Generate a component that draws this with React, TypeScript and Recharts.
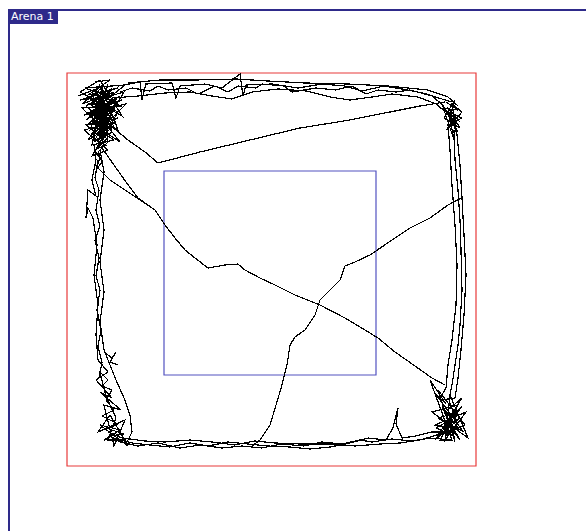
import { ComposedChart, Line, XAxis, YAxis, ReferenceArea } from "recharts";

// Arena coordinates (same units as the picture, origin at the top-left)
const W = 586;
const H = 531;

const outerZone = { x1: 67, x2: 476, y1: 73, y2: 466 };
const centerZone = { x1: 164, x2: 376, y1: 171, y2: 375 };

type Pt = [number, number];

const topLeftBlob: Pt[] = [
  [95, 82], [110, 80], [88, 95], [118, 88], [80, 100], [112, 96], [92, 108], [122, 100],
  [84, 115], [115, 110], [98, 120], [108, 84], [90, 130], [118, 118], [86, 125], [104, 140],
  [96, 100], [124, 92], [100, 132], [112, 125], [88, 140], [106, 112], [94, 90], [120, 106],
  [82, 108], [110, 135], [98, 148], [116, 100], [90, 118], [105, 95], [85, 88], [125, 85],
  [100, 105], [92, 145], [114, 140], [96, 128], [108, 118], [88, 112], [118, 130], [102, 88],
  [97, 112], [111, 104], [93, 124], [104, 128], [99, 96], [113, 116], [91, 136], [107, 146],
];

const topLeftBlob2: Pt[] = [
  [100, 84], [92, 100], [106, 92], [96, 116], [110, 100], [100, 124], [114, 108], [103, 136],
  [94, 110], [108, 126], [98, 140], [112, 132], [96, 92], [104, 104], [90, 104], [100, 112],
  [108, 110], [102, 120], [94, 132], [106, 138], [98, 104], [112, 88], [104, 98], [96, 124],
  [110, 118], [100, 98], [106, 130], [92, 118], [102, 92], [108, 142], [98, 152], [102, 162],
  [96, 170], [100, 158], [94, 150], [104, 146], [99, 130], [103, 114], [97, 106],
];

const topLeftBlob3: Pt[] = [
  [78, 96], [104, 86], [82, 104], [114, 92], [86, 120], [120, 96], [90, 112], [126, 104],
  [96, 134], [116, 122], [84, 130], [108, 150], [92, 156], [118, 112], [80, 92], [100, 80],
  [122, 116], [90, 98], [114, 126], [94, 142], [104, 122], [86, 106], [110, 92], [98, 114],
  [120, 142], [102, 130], [116, 104], [88, 124], [106, 106], [96, 86],
];

const topEdgeOuter: Pt[] = [
  [118, 86], [140, 82], [142, 100], [146, 84], [172, 83], [176, 98], [180, 86], [205, 84],
  [222, 88], [240, 74], [243, 96], [246, 85], [272, 84], [298, 88], [322, 84], [345, 86],
  [362, 91], [384, 86], [402, 89], [423, 93], [442, 99], [452, 102],
];

const topEdgeInner: Pt[] = [
  [112, 98], [138, 96], [165, 93], [190, 92], [212, 96], [232, 99], [252, 92], [278, 89],
  [306, 91], [330, 97], [350, 100], [372, 97], [392, 94], [418, 97], [436, 104], [446, 112],
];

const topEdgeHigh: Pt[] = [
  [128, 83], [160, 80], [195, 80], [236, 79], [268, 81], [305, 83], [348, 84], [388, 86],
  [428, 90], [448, 97], [458, 106],
];

const topEdgeJitter: Pt[] = [
  [120, 92], [132, 88], [150, 91], [158, 86], [168, 90], [186, 88], [198, 94], [215, 86],
  [228, 92], [238, 86], [256, 88], [262, 84], [284, 86], [292, 92], [316, 88], [336, 90],
  [352, 86], [366, 94], [378, 90], [396, 92], [410, 90], [432, 96], [444, 106],
];

const topRightBlob: Pt[] = [
  [446, 102], [458, 110], [440, 108], [462, 118], [448, 125], [455, 100], [444, 118],
  [460, 128], [450, 112], [457, 135], [452, 104], [462, 112], [446, 130], [456, 122],
  [449, 116], [458, 132], [442, 104], [454, 140], [448, 108], [460, 122],
];

const rightEdgeOuter: Pt[] = [
  [457, 135], [460, 165], [462, 198], [464, 235], [466, 275], [464, 315], [461, 350],
  [458, 378], [455, 398],
];

const rightEdgeInner: Pt[] = [
  [448, 125], [450, 150], [452, 185], [455, 225], [457, 265], [456, 305], [452, 340],
  [448, 365], [446, 388], [440, 398],
];

const rightEdgeMid: Pt[] = [
  [454, 130], [455, 160], [458, 190], [460, 220], [461, 250], [462, 290], [460, 325],
  [458, 345], [455, 365], [452, 385], [449, 400],
];

const bottomRightBlob: Pt[] = [
  [455, 398], [440, 400], [462, 430], [435, 425], [466, 412], [445, 440], [450, 395],
  [468, 438], [432, 412], [458, 405], [440, 435], [465, 425], [438, 390], [455, 442],
  [448, 410], [462, 398], [435, 440], [460, 418], [442, 428], [452, 432], [432, 432],
];

const bottomRightBlob2: Pt[] = [
  [449, 400], [456, 420], [444, 412], [460, 440], [448, 424], [464, 432], [438, 418],
  [452, 414], [446, 436], [458, 428], [442, 406], [454, 436], [436, 428], [450, 420],
  [462, 406], [444, 432], [456, 410], [440, 440], [452, 440], [430, 380], [446, 404],
  [434, 392], [458, 424],
];

const bottomEdge: Pt[] = [
  [432, 432], [416, 436], [402, 438], [396, 424], [398, 408], [393, 428], [386, 440],
  [368, 438], [350, 443], [330, 447], [310, 449], [290, 447], [268, 446], [248, 444],
  [228, 442], [208, 446], [190, 443], [170, 447], [150, 445], [132, 443], [116, 439],
];

const bottomEdge2: Pt[] = [
  [440, 434], [420, 440], [400, 443], [380, 444], [355, 446], [330, 444], [300, 444],
  [275, 443], [255, 441], [235, 445], [212, 442], [190, 440], [165, 442], [145, 441],
  [122, 438], [108, 432],
];

const bottomEdge3: Pt[] = [
  [452, 440], [430, 438], [412, 441], [392, 439], [372, 442], [360, 440], [342, 444],
  [322, 442], [304, 446], [282, 444], [262, 448], [242, 446], [222, 448], [200, 445],
  [180, 448], [158, 443], [138, 446], [120, 442],
];

const bottomLeftBlob: Pt[] = [
  [116, 439], [104, 440], [120, 430], [100, 425], [128, 446], [110, 415], [98, 432],
  [125, 420], [114, 446], [104, 405], [121, 410], [100, 392], [112, 398], [96, 380],
  [108, 372],
];

const bottomLeftBlob2: Pt[] = [
  [120, 442], [110, 436], [124, 434], [106, 428], [118, 424], [102, 416], [114, 410],
  [106, 400], [112, 390], [102, 386], [108, 380], [100, 372], [106, 396], [116, 418],
  [108, 440], [126, 440],
];

const leftEdgeOuter: Pt[] = [
  [108, 372], [98, 360], [96, 335], [98, 305], [94, 275], [97, 245], [93, 218], [88, 208],
  [86, 218], [88, 190], [96, 196], [92, 180], [96, 160], [94, 145],
];

const leftEdgeInner: Pt[] = [
  [100, 150], [104, 172], [100, 200], [104, 230], [100, 262], [104, 292], [100, 322],
  [104, 350], [110, 365], [116, 380], [124, 398], [130, 415], [132, 432], [126, 444],
];

const leftEdgeJitter: Pt[] = [
  [98, 160], [95, 178], [99, 190], [96, 210], [100, 226], [95, 240], [99, 258], [96, 276],
  [100, 290], [97, 310], [101, 330], [98, 346], [102, 362], [99, 378],
];

const leftLoop: Pt[] = [
  [104, 352], [112, 358], [116, 352], [110, 362], [118, 365],
];

const crossTop: Pt[] = [
  [110, 125], [128, 140], [145, 152], [158, 163], [200, 152], [250, 140], [300, 128],
  [350, 120], [390, 112], [420, 106], [445, 102],
];

const crossBranch: Pt[] = [
  [102, 148], [114, 165], [126, 182], [138, 198], [155, 210],
];

const crossDown: Pt[] = [
  [95, 165], [110, 180], [125, 190], [140, 200], [155, 210], [165, 225], [175, 238],
  [185, 250], [195, 258], [208, 268], [225, 265], [238, 264], [245, 270], [260, 278],
  [275, 285], [295, 295], [320, 305], [345, 318], [365, 330], [378, 338], [395, 352],
  [415, 366], [432, 378], [445, 385],
];

const crossUp: Pt[] = [
  [463, 197], [448, 205], [430, 218], [410, 228], [392, 240], [370, 255], [355, 262],
  [345, 266], [340, 280], [330, 290], [320, 300], [315, 315], [305, 330], [295, 337],
  [290, 345], [287, 365], [282, 385], [276, 405], [270, 425], [260, 440], [252, 446],
];

const segments: Pt[][] = [
  topLeftBlob, topLeftBlob2, topLeftBlob3, topEdgeOuter, topEdgeInner, topEdgeHigh,
  topEdgeJitter, topRightBlob, rightEdgeOuter, rightEdgeInner, rightEdgeMid, bottomRightBlob,
  bottomRightBlob2, bottomEdge, bottomEdge2, bottomEdge3, bottomLeftBlob, bottomLeftBlob2,
  leftEdgeOuter, leftEdgeInner, leftEdgeJitter, leftLoop, crossTop, crossBranch, crossDown,
  crossUp,
];

const NAVY = "#2e2a8a";

export default function App() {
  return (
    <div style={{ position: "absolute", left: 0, top: 0, width: W, height: H, background: "#fff" }}>
      <style>{".track path.recharts-curve{shape-rendering:crispEdges}"}</style>
      <ComposedChart
        className="track"
        width={W}
        height={H}
        margin={{ top: 0, right: 0, bottom: 0, left: 0 }}
      >
        <XAxis type="number" dataKey="x" domain={[0, W]} hide allowDataOverflow />
        <YAxis type="number" dataKey="y" domain={[0, H]} reversed hide allowDataOverflow />
        <ReferenceArea {...outerZone} fill="none" stroke="#e83a3a" strokeWidth={1.2} />
        <ReferenceArea {...centerZone} fill="none" stroke="#5252c0" strokeWidth={1.2} />
        {segments.map((seg, i) => (
          <Line
            key={i}
            data={seg.map(([x, y]) => ({ x, y }))}
            dataKey="y"
            type="linear"
            stroke="#000"
            strokeWidth={1.2}
            dot={false}
            activeDot={false}
            isAnimationActive={false}
          />
        ))}
      </ComposedChart>
      <div style={{ position: "absolute", left: 8, top: 9, width: W - 8, height: 2, background: NAVY }} />
      <div style={{ position: "absolute", left: 8, top: 9, width: 2, height: H - 9, background: NAVY }} />
      <div
        style={{
          position: "absolute",
          left: 9,
          top: 10,
          width: 49,
          height: 14,
          background: NAVY,
          color: "#fff",
          fontFamily: "DejaVu Sans",
          fontSize: 11,
          lineHeight: "14px",
          paddingLeft: 2,
          boxSizing: "border-box",
        }}
      >
        Arena 1
      </div>
    </div>
  );
}
